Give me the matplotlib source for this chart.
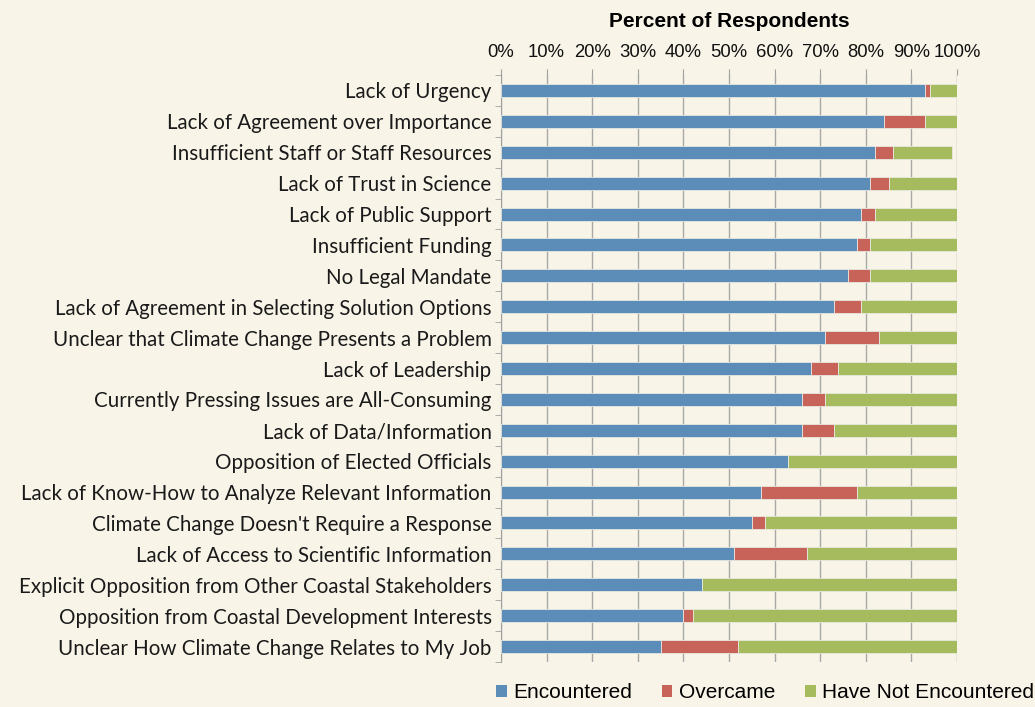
import numpy as np
import matplotlib
matplotlib.use("Agg")
import matplotlib.pyplot as plt
from matplotlib.patches import Patch
from matplotlib.ticker import FixedLocator

# 범주(위에서 아래 순서)
CATEGORIES = [
    "Lack of Urgency",
    "Lack of Agreement over Importance",
    "Insufficient Staff or Staff Resources",
    "Lack of Trust in Science",
    "Lack of Public Support",
    "Insufficient Funding",
    "No Legal Mandate",
    "Lack of Agreement in Selecting Solution Options",
    "Unclear that Climate Change Presents a Problem",
    "Lack of Leadership",
    "Currently Pressing Issues are All-Consuming",
    "Lack of Data/Information",
    "Opposition of Elected Officials",
    "Lack of Know-How to Analyze Relevant Information",
    "Climate Change Doesn't Require a Response",
    "Lack of Access to Scientific Information",
    "Explicit Opposition from Other Coastal Stakeholders",
    "Opposition from Coastal Development Interests",
    "Unclear How Climate Change Relates to My Job",
]
ENCOUNTERED = [93, 84, 82, 81, 79, 78, 76, 73, 71, 68, 66, 66, 63, 57, 55, 51, 44, 40, 35]
OVERCAME = [1, 9, 4, 4, 3, 3, 5, 6, 12, 6, 5, 7, 0, 21, 3, 16, 0, 2, 17]
NOT_ENCOUNTERED = [6, 7, 13, 15, 18, 19, 19, 21, 17, 26, 29, 27, 37, 22, 42, 33, 56, 58, 48]
XTICKS = list(range(0, 101, 10))

SERIES = ["Encountered", "Overcame", "Have Not Encountered"]
COLORS = ["#5b8db8", "#c8635a", "#a5bb5e"]
BG = "#f8f4e8"


def main():
    fig = plt.figure(figsize=(10.35, 7.07), dpi=100, facecolor=BG)
    ax = fig.add_axes([501 / 1035, 1 - 662 / 707, 456 / 1035, (662 - 75) / 707])
    ax.set_facecolor(BG)

    y = np.arange(len(CATEGORIES))
    left = np.zeros(len(CATEGORIES))
    for vals, col in zip([ENCOUNTERED, OVERCAME, NOT_ENCOUNTERED], COLORS):
        v = np.array(vals, dtype=float)
        ax.barh(y, v, left=left, height=0.42, color=col,
                edgecolor="#e8e8e0", linewidth=0.6, zorder=3)
        left += v

    ax.set_ylim(len(CATEGORIES) - 0.5, -0.5)
    ax.set_xlim(0, 100)
    ax.xaxis.tick_top()
    ax.xaxis.set_label_position("top")
    ax.set_xticks(XTICKS)
    ax.set_xticklabels([f"{t}%" for t in XTICKS],
                       fontsize=13.3, family="Liberation Sans", color="#111111")
    ax.tick_params(axis="x", length=4, color="#a0a0a0", pad=6)
    ax.set_xlabel("Percent of Respondents", fontsize=15, fontweight="bold",
                  family="Liberation Sans", labelpad=12)

    ax.set_yticks(y)
    ax.set_yticklabels([c + " " for c in CATEGORIES], fontsize=14.8,
                       family="Lato", color="#1a1a1a")
    ax.yaxis.set_minor_locator(FixedLocator(np.arange(-0.5, len(CATEGORIES), 1)))
    ax.tick_params(axis="y", which="major", length=0, pad=3)
    ax.tick_params(axis="y", which="minor", length=4, color="#a0a0a0")

    ax.grid(axis="x", color="#a8a8a8", lw=1.0, zorder=1)
    for s in ["top", "bottom", "right"]:
        ax.spines[s].set_visible(False)
    ax.spines["left"].set_color("#a0a0a0")

    handles = [Patch(facecolor=c, edgecolor="none") for c in COLORS]
    fig.legend(handles, SERIES, loc="center", bbox_to_anchor=(765 / 1035, 1 - 693 / 707),
               ncol=3, frameon=False, handlelength=0.5, handleheight=0.5,
               handletextpad=0.3, columnspacing=1.45, borderaxespad=0, borderpad=0,
               prop={"family": "Liberation Sans", "size": 15})

    fig.savefig("out.png", dpi=100, facecolor=BG)
    plt.close(fig)


if __name__ == "__main__":
    main()
